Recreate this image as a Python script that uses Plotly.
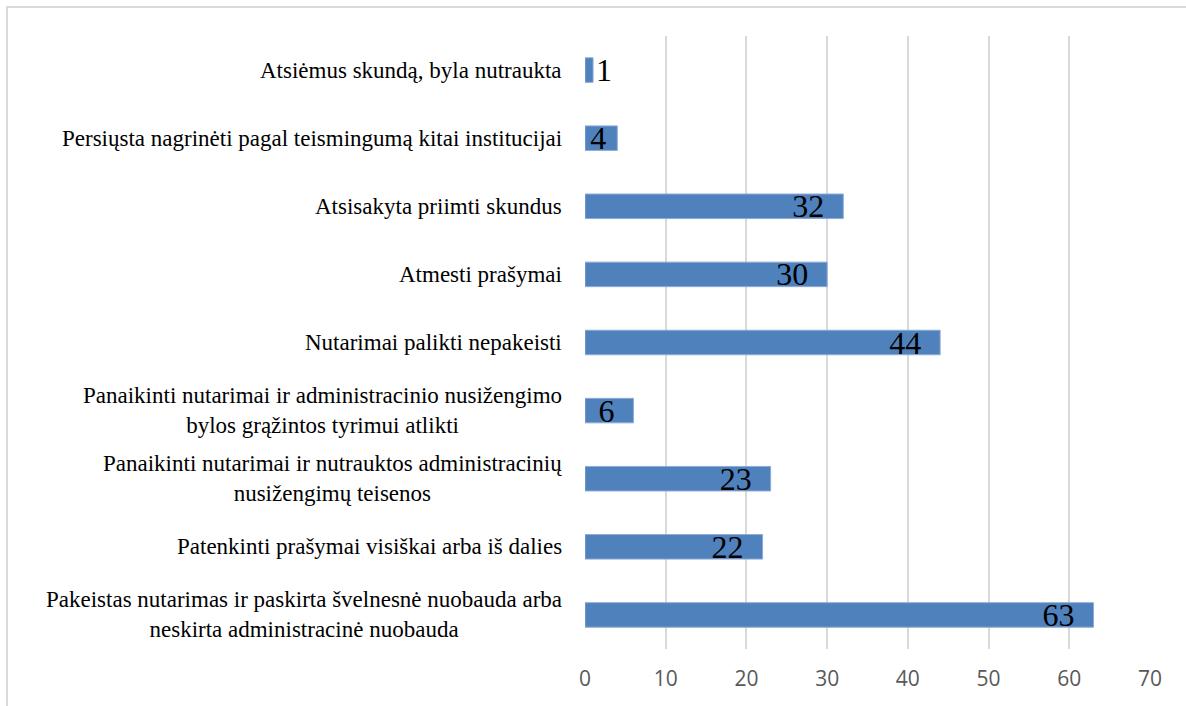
import plotly.graph_objects as go

categories = [
    "Atsiėmus skundą, byla nutraukta",
    "Persiųsta nagrinėti pagal teismingumą kitai institucijai",
    "Atsisakyta priimti skundus",
    "Atmesti prašymai",
    "Nutarimai palikti nepakeisti",
    "Panaikinti nutarimai ir administracinio nusižengimo<br>bylos grąžintos tyrimui atlikti",
    "Panaikinti nutarimai ir nutrauktos administracinių<br>nusižengimų teisenos",
    "Patenkinti prašymai visiškai arba iš dalies",
    "Pakeistas nutarimas ir paskirta švelnesnė nuobauda arba<br>neskirta administracinė nuobauda",
]
values = [1, 4, 32, 30, 44, 6, 23, 22, 63]
x_ticks = [0, 10, 20, 30, 40, 50, 60, 70]

positions = ["outside" if v < 3 else "inside" for v in values]
templates = ["%{x}" if v < 3 else ("%{x}\u00a0" if v < 5 else "%{x}\u00a0\u00a0") for v in values]
serif = "Liberation Serif, Times New Roman, serif"

fig = go.Figure()
fig.add_trace(go.Bar(
    y=categories,
    x=values,
    orientation="h",
    width=0.36,
    marker=dict(color="#4F81BD", line=dict(color="#8FAAD6", width=1)),
    text=values,
    texttemplate=templates,
    textposition=positions,
    insidetextanchor="end",
    constraintext="none",
    textangle=0,
    cliponaxis=False,
    textfont=dict(family=serif, size=32, color="black"),
    insidetextfont=dict(family=serif, size=32, color="black"),
    outsidetextfont=dict(family=serif, size=32, color="black"),
    hoverinfo="skip",
))

for c in categories:
    fig.add_annotation(
        x=0, xref="paper", y=c, yref="y",
        text=c, showarrow=False, xanchor="right", yanchor="middle",
        xshift=-21, align="center",
        font=dict(family=serif, size=23, color="black"),
    )

# outer chart frame
fig.add_shape(type="rect", xref="paper", yref="paper",
              x0=(7 - 585) / 565, x1=(1240 - 585) / 565,
              y0=(649 - 760) / 613, y1=(649 - 7) / 613,
              line=dict(color="#D9D9D9", width=2), fillcolor="rgba(0,0,0,0)", layer="below")

fig.update_layout(
    width=1186, height=706,
    margin=dict(l=585, r=36, t=36, b=57),
    paper_bgcolor="white", plot_bgcolor="white",
    showlegend=False,
    bargap=0.64,
    xaxis=dict(
        range=[0, 70], tickvals=x_ticks, showgrid=True, gridcolor="#D9D9D9", gridwidth=1.5,
        zeroline=False, showline=False, ticks="",
        tickfont=dict(family="Open Sans, sans-serif", size=21, color="#595959"),
        ticklabelstandoff=15, fixedrange=True,
    ),
    yaxis=dict(
        categoryorder="array", categoryarray=categories[::-1],
        showticklabels=False, showgrid=False, zeroline=False, showline=False,
        range=[-0.5, 8.5], fixedrange=True,
    ),
)

fig.write_html("out.html", config={"displayModeBar": False},
               post_script="document.body.style.margin='0';document.body.style.overflow='hidden';")
